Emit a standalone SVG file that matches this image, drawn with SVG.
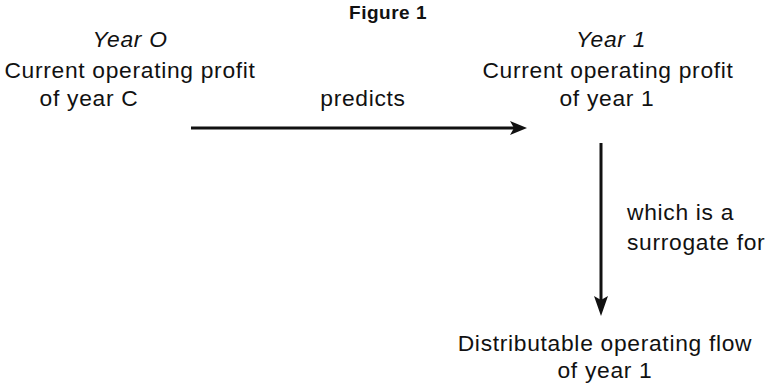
<svg xmlns="http://www.w3.org/2000/svg" width="767" height="390" viewBox="0 0 767 390">
<defs>
<style>
text{font-family:"Liberation Sans",Arial,sans-serif;font-size:22.8px;fill:#111;letter-spacing:0.7px}
.c{text-anchor:middle}
.i{font-style:italic}
.t{font-weight:bold;font-size:19px;letter-spacing:0.5px}
.e{stroke:#111;stroke-width:3;fill:none}
</style>
</defs>
<text class="t c" x="388" y="19">Figure 1</text>
<g id="year0">
<text class="c i" x="130" y="47">Year O</text>
<text class="c" x="130" y="78">Current operating profit</text>
<text class="c" x="89" y="106">of year C</text>
</g>
<g id="year1">
<text class="c i" x="611" y="47">Year 1</text>
<text class="c" x="608" y="78">Current operating profit</text>
<text class="c" x="607" y="106">of year 1</text>
</g>
<g id="flow">
<text class="c" x="605" y="351">Distributable operating flow</text>
<text class="c" x="605" y="378">of year 1</text>
</g>
<g id="connectors">
<line class="e" x1="191" y1="128" x2="520" y2="128"/>
<path d="M510,121 L527,128 L510,135 L514,128 Z" fill="#111"/>
<line class="e" x1="601" y1="143" x2="601" y2="305"/>
<path d="M594,296 L601,316 L608,296 L601,300 Z" fill="#111"/>
<text class="c" x="363" y="106">predicts</text>
<text x="627" y="220">which is a</text>
<text x="627" y="250">surrogate for</text>
</g>
</svg>
